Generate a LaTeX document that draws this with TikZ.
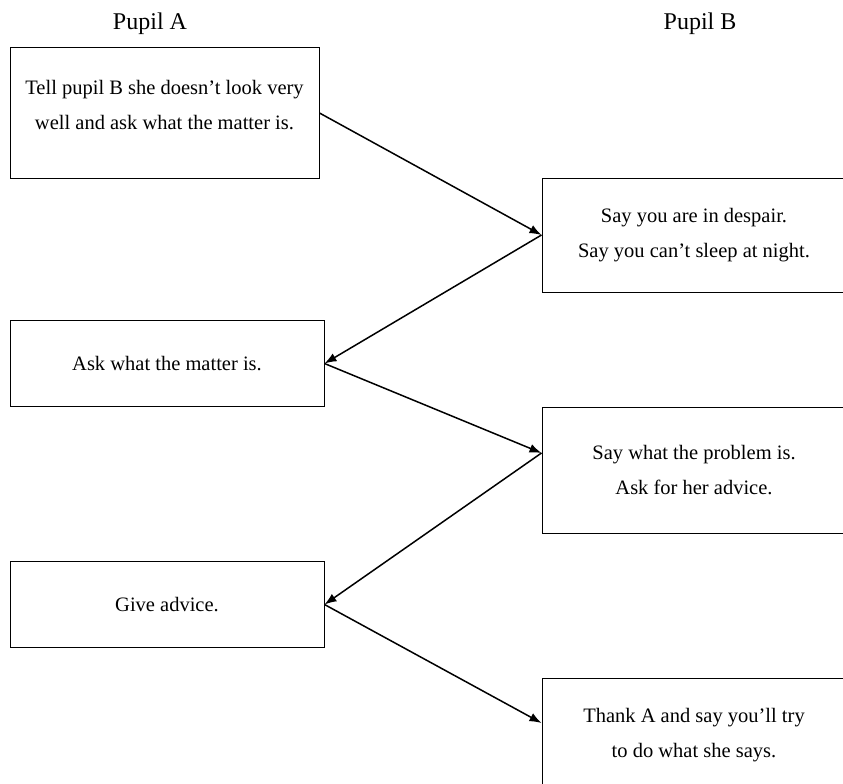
\documentclass[tikz,border=0pt]{standalone}
\usepackage{fontspec}
\setmainfont{Liberation Serif}
\usetikzlibrary{arrows.meta}
\usetikzlibrary{positioning}

\begin{document}
\begin{tikzpicture}[x=1pt, y=-1pt, >={Latex[length=12pt,width=9pt]},
  turn/.style={draw, line width=1pt, align=center, inner sep=0pt,
    font=\fontsize{20.5}{35}\selectfont},
  pupilA/.style={turn, minimum width=314pt, minimum height=86pt},
  pupilB/.style={turn, minimum width=304pt, minimum height=116pt},
  head/.style={anchor=base, font=\fontsize{24}{28}\selectfont},
  link/.style={line width=1.5pt, ->}]
\useasboundingbox (0,0) rectangle (843,784);

%headings
\node[head] (hA) at (150, 30) {Pupil A};
\node[head] (hB) at (700, 30) {Pupil B};

%Pupil A
\node[pupilA, minimum width=309pt, minimum height=130pt, text depth=16pt] (a1) at (164.5, 113)
  {Tell pupil B she doesn't look very\\well and ask what the matter is.};
\node[pupilA] (a2) at (167, 363.5) {Ask what the matter is.};
\node[pupilA] (a3) at (167, 604.5) {Give advice.};

%Pupil B
\node[pupilB, minimum height=114pt] (b1) at (694, 235)
  {Say you are in despair.\\Say you can't sleep at night.};
\node[pupilB, minimum height=126pt] (b2) at (694, 470)
  {Say what the problem is.\\Ask for her advice.};
\node[pupilB, minimum height=114pt] (b3) at (694, 735)
  {Thank A and say you'll try\\to do what she says.};

\coordinate (b2in) at ([yshift=17pt]b2.west);
\coordinate (b3in) at ([yshift=12pt]b3.west);

%turns
\draw[link] (a1.east) -- (b1.west);
\draw[link] (b1.west) -- (a2.east);
\draw[link] (a2.east) -- (b2in);
\draw[link] (b2in) -- (a3.east);
\draw[link] (a3.east) -- (b3in);
\end{tikzpicture}
\end{document}
